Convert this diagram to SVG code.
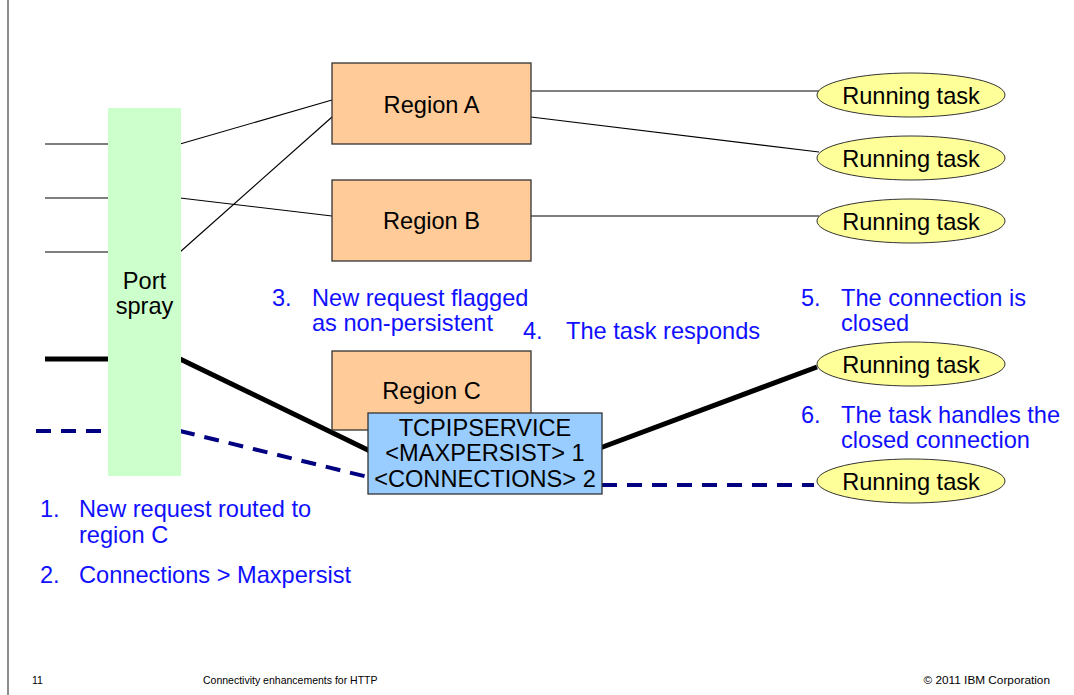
<svg xmlns="http://www.w3.org/2000/svg" width="1074" height="695" viewBox="0 0 1074 695">
  <style>
    .thin { stroke: #000; stroke-width: 1.2; fill: none; }
    .thick { stroke: #000; stroke-width: 5; fill: none; }
    .dash { stroke: #000080; stroke-width: 4; fill: none; stroke-dasharray: 15 10; }
    .region { fill: #ffcc99; stroke: #333; stroke-width: 1.3; }
    .task { fill: #ffff99; stroke: #333; stroke-width: 1; }
    .lbl { font-family: "Liberation Sans", Arial, sans-serif; font-size: 23.6px; fill: #000; }
    .note { font-family: "Liberation Sans", Arial, sans-serif; font-size: 23.6px; fill: #1010ff; }
    .foot { font-family: "Liberation Sans", Arial, sans-serif; font-size: 10.5px; fill: #000; }
    .copy { font-size: 11.8px; }
  </style>

  <rect x="0" y="0" width="1074" height="695" fill="#fff"/>
  <!-- slide frame edge -->
  <line x1="8" y1="0" x2="8" y2="695" stroke="#666" stroke-width="1.5"/>

  <!-- connectors -->
  <g id="connectors">
    <line class="thin" x1="45" y1="144" x2="108" y2="144"/>
    <line class="thin" x1="45" y1="198" x2="108" y2="198"/>
    <line class="thin" x1="45" y1="252" x2="108" y2="252" stroke="#555"/>
    <line class="thin" x1="180" y1="144" x2="332" y2="100"/>
    <line class="thin" x1="180" y1="198" x2="332" y2="216"/>
    <line class="thin" x1="180" y1="252" x2="332" y2="117"/>
    <line class="thin" x1="531" y1="91" x2="819" y2="91"/>
    <line class="thin" x1="531" y1="117" x2="819" y2="152"/>
    <line class="thin" x1="531" y1="216" x2="819" y2="216"/>
    <line class="thick" x1="45" y1="359" x2="108" y2="359"/>
    <line class="thick" x1="180" y1="359" x2="370" y2="451"/>
    <line class="thick" x1="600" y1="448" x2="817" y2="367"/>
    <line class="dash" x1="36" y1="431" x2="108" y2="431"/>
    <line class="dash" x1="180" y1="431" x2="368" y2="477"/>
    <line class="dash" x1="602" y1="485" x2="814" y2="485"/>
  </g>

  <!-- port spray -->
  <g id="port-spray">
    <rect x="108" y="108" width="73" height="368" fill="#ccffcc"/>
    <text class="lbl" x="144.5" y="289" text-anchor="middle">Port</text>
    <text class="lbl" x="144.5" y="314" text-anchor="middle">spray</text>
  </g>

  <!-- regions -->
  <g id="region-a">
    <rect class="region" x="332" y="63" width="199" height="81"/>
    <text class="lbl" x="431.5" y="113" text-anchor="middle">Region A</text>
  </g>
  <g id="region-b">
    <rect class="region" x="332" y="180" width="199" height="81"/>
    <text class="lbl" x="431.5" y="229" text-anchor="middle">Region B</text>
  </g>
  <g id="region-c">
    <rect class="region" x="332" y="351" width="199" height="79"/>
    <text class="lbl" x="431.5" y="399" text-anchor="middle">Region C</text>
  </g>

  <!-- TCPIPSERVICE -->
  <g id="tcpipservice">
    <rect x="368" y="413" width="234" height="81" fill="#99ccff" stroke="#333" stroke-width="1.3"/>
    <text class="lbl" x="485" y="436" text-anchor="middle">TCPIPSERVICE</text>
    <text class="lbl" x="485" y="461" text-anchor="middle">&lt;MAXPERSIST&gt; 1</text>
    <text class="lbl" x="485" y="487" text-anchor="middle">&lt;CONNECTIONS&gt; 2</text>
  </g>

  <!-- running tasks -->
  <g id="task-1">
    <ellipse class="task" cx="911" cy="95" rx="94" ry="22"/>
    <text class="lbl" x="911" y="104" text-anchor="middle">Running task</text>
  </g>
  <g id="task-2">
    <ellipse class="task" cx="911" cy="158" rx="94" ry="22"/>
    <text class="lbl" x="911" y="167" text-anchor="middle">Running task</text>
  </g>
  <g id="task-3">
    <ellipse class="task" cx="911" cy="221" rx="94" ry="22"/>
    <text class="lbl" x="911" y="230" text-anchor="middle">Running task</text>
  </g>
  <g id="task-4">
    <ellipse class="task" cx="911" cy="364" rx="94" ry="22"/>
    <text class="lbl" x="911" y="373" text-anchor="middle">Running task</text>
  </g>
  <g id="task-5">
    <ellipse class="task" cx="911" cy="481" rx="94" ry="22"/>
    <text class="lbl" x="911" y="490" text-anchor="middle">Running task</text>
  </g>

  <!-- numbered notes -->
  <g id="notes">
    <text class="note" x="40" y="517">1.</text>
    <text class="note" x="79" y="517">New request routed to</text>
    <text class="note" x="79" y="543">region C</text>
    <text class="note" x="40" y="583">2.</text>
    <text class="note" x="79" y="583">Connections &gt; Maxpersist</text>
    <text class="note" x="272" y="306">3.</text>
    <text class="note" x="312" y="306">New request flagged</text>
    <text class="note" x="312" y="331">as non-persistent</text>
    <text class="note" x="523" y="339">4.</text>
    <text class="note" x="566" y="339">The task responds</text>
    <text class="note" x="801" y="306">5.</text>
    <text class="note" x="841" y="306">The connection is</text>
    <text class="note" x="841" y="331">closed</text>
    <text class="note" x="801" y="423">6.</text>
    <text class="note" x="841" y="423">The task handles the</text>
    <text class="note" x="841" y="448">closed connection</text>
  </g>

  <!-- footer -->
  <g id="footer">
    <text class="foot" x="32" y="684">11</text>
    <text class="foot" x="203" y="684">Connectivity enhancements for HTTP</text>
    <text class="foot copy" x="1050" y="684" text-anchor="end">© 2011 IBM Corporation</text>
  </g>
</svg>
